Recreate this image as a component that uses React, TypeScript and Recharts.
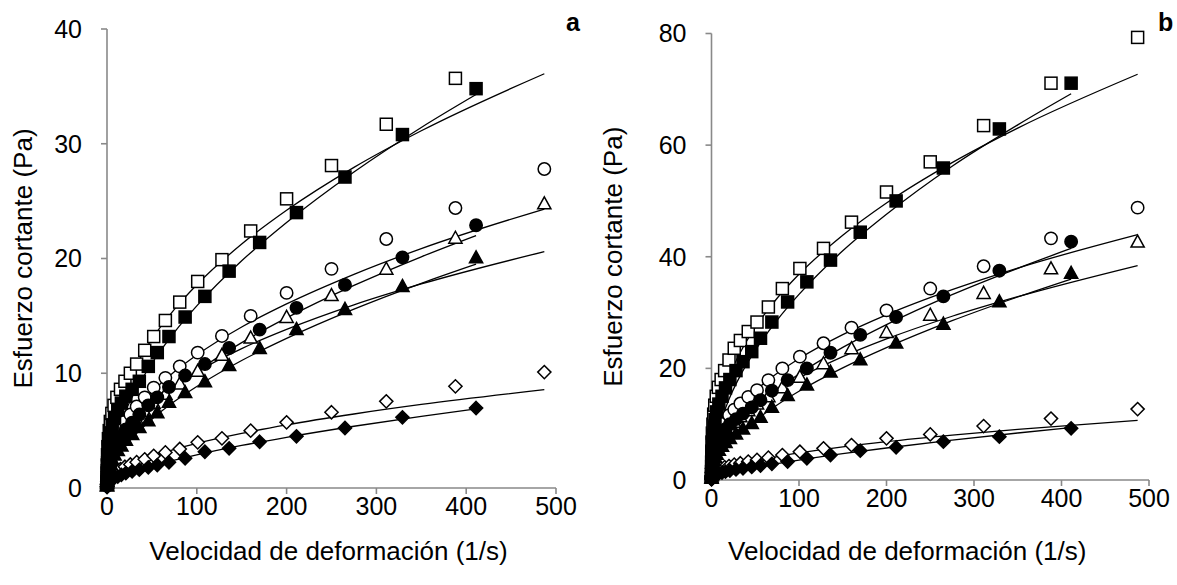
import React from "react";
import { ComposedChart, Scatter, Line, XAxis, YAxis } from "recharts";

const FONT = '"Liberation Sans", Arial, Helvetica, sans-serif';

// shear-rate steps of the two ramps (1/s)
const openRates = [0.05, 0.15, 0.3, 0.6, 1.0, 1.6, 2.5, 3.7, 5.4, 7.8, 11, 15, 20, 26, 33, 42, 52, 65, 81, 101, 128, 160, 200, 250, 311, 388, 487];
const filledRates = [0.06, 0.17, 0.35, 0.7, 1.1, 1.8, 2.7, 4.0, 5.8, 8.4, 12, 16, 21, 28, 36, 46, 56, 69, 87, 109, 136, 170, 211, 265, 329, 411];

// panel a, shear stress (Pa)
const aOpenSquare = [0.6, 1.3, 2.0, 2.9, 3.6, 4.3, 5.0, 5.8, 6.5, 7.2, 7.9, 8.6, 9.3, 10.0, 10.8, 12.0, 13.2, 14.6, 16.2, 18.0, 19.9, 22.4, 25.2, 28.1, 31.7, 35.7];
const aFilledSquare = [0.4, 0.9, 1.5, 2.2, 2.8, 3.5, 4.1, 4.8, 5.5, 6.1, 6.8, 7.4, 8.0, 8.6, 9.3, 10.6, 11.8, 13.2, 14.9, 16.7, 18.9, 21.4, 24.0, 27.1, 30.8, 34.8];
const aOpenCircle = [0.3, 0.6, 0.9, 1.3, 1.7, 2.1, 2.6, 3.1, 3.6, 4.1, 4.6, 5.2, 5.8, 6.4, 7.1, 7.9, 8.75, 9.6, 10.6, 11.8, 13.25, 15.0, 17.0, 19.1, 21.7, 24.4, 27.8];
const aFilledCircle = [0.2, 0.45, 0.7, 1.0, 1.4, 1.8, 2.2, 2.6, 3.0, 3.5, 4.0, 4.5, 5.1, 5.7, 6.4, 7.2, 7.9, 8.8, 9.8, 10.8, 12.2, 13.8, 15.7, 17.7, 20.1, 22.9];
const aOpenTriangle = [0.25, 0.5, 0.8, 1.1, 1.4, 1.8, 2.2, 2.6, 3.0, 3.4, 3.9, 4.4, 4.9, 5.4, 6.0, 6.7, 7.4, 8.2, 9.1, 10.2, 11.6, 13.1, 14.9, 16.8, 19.1, 21.8, 24.8];
const aFilledTriangle = [0.2, 0.4, 0.6, 0.9, 1.2, 1.5, 1.8, 2.1, 2.5, 2.9, 3.3, 3.7, 4.2, 4.7, 5.3, 5.9, 6.6, 7.5, 8.35, 9.3, 10.7, 12.2, 13.85, 15.6, 17.6, 20.1];
const aOpenDiamond = [0.15, 0.3, 0.4, 0.5, 0.65, 0.8, 0.9, 1.0, 1.15, 1.3, 1.45, 1.65, 1.85, 2.05, 2.25, 2.5, 2.8, 3.1, 3.4, 3.98, 4.33, 5.0, 5.72, 6.6, 7.55, 8.86, 10.1];
const aFilledDiamond = [0.08, 0.15, 0.2, 0.3, 0.4, 0.5, 0.6, 0.7, 0.8, 0.9, 1.0, 1.15, 1.3, 1.45, 1.6, 1.8, 2.0, 2.24, 2.59, 3.16, 3.46, 4.03, 4.5, 5.23, 6.16, 6.97];

// panel b, shear stress (Pa)
const bOpenSquare = [1.5, 3.2, 5.0, 6.8, 8.4, 10.0, 11.8, 13.4, 15.0, 16.6, 18.0, 19.6, 21.5, 23.6, 25.0, 26.6, 28.3, 31.0, 34.3, 37.9, 41.5, 46.2, 51.6, 57.0, 63.5, 71.1, 79.3];
const bFilledSquare = [1.0, 2.4, 3.8, 5.2, 6.6, 8.0, 9.4, 10.8, 12.2, 13.6, 15.0, 16.5, 18.0, 19.6, 21.2, 23.0, 25.4, 28.3, 31.9, 35.5, 39.4, 44.4, 50.0, 55.9, 62.9, 71.1];
const bOpenCircle = [0.6, 1.3, 2.1, 3.0, 3.9, 4.8, 5.7, 6.6, 7.6, 8.6, 9.6, 10.6, 11.6, 12.6, 13.7, 14.9, 16.1, 17.9, 20.0, 22.1, 24.5, 27.3, 30.4, 34.3, 38.3, 43.3, 48.8];
const bFilledCircle = [0.5, 1.0, 1.7, 2.4, 3.2, 4.0, 4.8, 5.6, 6.4, 7.3, 8.2, 9.1, 10.0, 10.9, 11.9, 13.0, 14.3, 16.0, 17.9, 20.0, 22.8, 26.0, 29.2, 32.9, 37.5, 42.7];
const bOpenTriangle = [0.5, 1.0, 1.7, 2.4, 3.1, 3.8, 4.6, 5.4, 6.2, 7.0, 7.8, 8.6, 9.5, 10.4, 11.4, 12.5, 13.7, 15.0, 16.6, 18.5, 20.9, 23.6, 26.5, 29.6, 33.5, 37.9, 42.7];
const bFilledTriangle = [0.4, 0.8, 1.3, 1.8, 2.3, 2.9, 3.5, 4.1, 4.7, 5.4, 6.1, 6.8, 7.5, 8.3, 9.2, 10.2, 11.3, 13.1, 15.2, 17.1, 19.4, 21.6, 24.6, 28.0, 32.0, 37.1];
const bOpenDiamond = [0.2, 0.4, 0.6, 0.8, 1.0, 1.15, 1.3, 1.5, 1.7, 1.9, 2.1, 2.3, 2.5, 2.75, 3.0, 3.3, 3.6, 4.0, 4.47, 5.07, 5.67, 6.26, 7.46, 8.17, 9.66, 11.0, 12.7];
const bFilledDiamond = [0.1, 0.2, 0.3, 0.4, 0.5, 0.65, 0.8, 0.9, 1.05, 1.2, 1.35, 1.5, 1.7, 1.9, 2.1, 2.35, 2.6, 2.9, 3.3, 3.88, 4.47, 5.25, 5.85, 6.86, 7.76, 9.25];

// power-law model curves, sampled
const fitOpenX = [0, 0.5, 2, 5, 10, 20, 35, 50, 75, 100, 150, 200, 275, 350, 487];
const fitFilledX = [0, 0.5, 2, 5, 10, 20, 35, 50, 75, 100, 150, 200, 275, 350, 411];

const aFitOpenSquare = [0, 1.63, 3.05, 4.6, 6.28, 8.59, 11.05, 12.97, 15.56, 17.71, 21.26, 24.2, 27.94, 31.13, 36.1];
const aFitFilledSquare = [0, 0.88, 1.88, 3.1, 4.53, 6.6, 8.95, 10.87, 13.57, 15.87, 19.8, 23.14, 27.54, 31.42, 34.29];
const aFitOpenCircle = [0, 0.97, 1.85, 2.84, 3.94, 5.45, 7.08, 8.37, 10.13, 11.59, 14.03, 16.04, 18.62, 20.86, 24.31];
const aFitFilledCircle = [0, 0.56, 1.19, 1.96, 2.87, 4.2, 5.7, 6.93, 8.66, 10.15, 12.67, 14.82, 17.65, 20.15, 22.0];
const aFitOpenTriangle = [0, 0.93, 1.74, 2.63, 3.59, 4.9, 6.31, 7.41, 8.89, 10.12, 12.15, 13.82, 15.96, 17.78, 20.6];
const aFitFilledTriangle = [0, 0.45, 0.99, 1.65, 2.44, 3.59, 4.91, 6.0, 7.53, 8.84, 11.11, 13.04, 15.59, 17.84, 19.51];
const aFitOpenDiamond = [0, 0.28, 0.55, 0.87, 1.23, 1.74, 2.3, 2.75, 3.37, 3.89, 4.76, 5.5, 6.45, 7.28, 8.57];
const aFitFilledDiamond = [0, 0.11, 0.26, 0.46, 0.7, 1.08, 1.52, 1.89, 2.42, 2.89, 3.71, 4.42, 5.38, 6.24, 6.89];

const bFitOpenSquare = [0, 3.8, 6.88, 10.19, 13.73, 18.47, 23.48, 27.36, 32.57, 36.86, 43.84, 49.62, 56.87, 63.06, 72.7];
const bFitFilledSquare = [0, 2.14, 4.38, 7.05, 10.09, 14.46, 19.31, 23.23, 28.65, 33.25, 41.06, 47.61, 56.22, 63.63, 69.2];
const bFitOpenCircle = [0, 2.06, 3.81, 5.73, 7.8, 10.62, 13.62, 15.97, 19.12, 21.73, 26.04, 29.6, 34.1, 37.97, 43.96];
const bFitFilledCircle = [0, 1.01, 2.18, 3.62, 5.31, 7.8, 10.62, 12.94, 16.18, 18.99, 23.76, 27.85, 33.21, 37.93, 41.49];
const bFitOpenTriangle = [0, 1.52, 2.91, 4.48, 6.2, 8.58, 11.16, 13.19, 15.95, 18.26, 22.09, 25.27, 29.34, 32.85, 38.43];
const bFitFilledTriangle = [0, 0.74, 1.66, 2.81, 4.2, 6.27, 8.67, 10.64, 13.45, 15.9, 20.09, 23.72, 28.54, 32.79, 36.0];
const bFitOpenDiamond = [0, 0.34, 0.69, 1.08, 1.53, 2.17, 2.87, 3.43, 4.2, 4.85, 5.94, 6.86, 8.04, 9.07, 10.7];
const bFitFilledDiamond = [0, 0.09, 0.24, 0.46, 0.73, 1.18, 1.74, 2.22, 2.93, 3.57, 4.71, 5.73, 7.13, 8.42, 9.4];

const xTicks = [0, 100, 200, 300, 400, 500];

type Kind = "square" | "circle" | "triangle" | "diamond";
type Pt = { x: number; y: number };

const zip = (xs: number[], ys: number[]): Pt[] =>
  ys.map((y, i) => ({ x: xs[i], y })).filter((p) => p.x !== undefined);

function Marker(props: any) {
  const { cx, cy, kind, filled } = props;
  if (cx == null || cy == null) return null;
  const style = { fill: filled ? "#000" : "#fff", stroke: "#000", strokeWidth: 1.5 };
  const r = 6.6;
  if (kind === "square") return <rect x={cx - 6} y={cy - 6} width={12} height={12} {...style} />;
  if (kind === "circle") return <circle cx={cx} cy={cy} r={6.2} {...style} />;
  if (kind === "triangle")
    return <path d={`M${cx},${cy - r}L${cx + r},${cy + 5.4}L${cx - r},${cy + 5.4}Z`} {...style} />;
  return <path d={`M${cx},${cy - r}L${cx + r},${cy}L${cx},${cy + r}L${cx - r},${cy}Z`} {...style} />;
}

type SeriesDef = { kind: Kind; filled: boolean; stress: number[]; fit: number[] };

type PanelProps = {
  width: number;
  yMax: number;
  yTicks: number[];
  margin: { top: number; right: number; bottom: number; left: number };
  yAxisWidth: number;
  xAxisHeight: number;
  titleDx: number;
  series: SeriesDef[];
};

const axisStroke = { stroke: "#898989", strokeWidth: 1.6 };
const tickStyle = { fill: "#000", fontSize: 25, fontFamily: FONT };

function Panel({ width, yMax, yTicks, margin, yAxisWidth, xAxisHeight, titleDx, series }: PanelProps) {
  return (
    <ComposedChart width={width} height={585} margin={margin}>
      <XAxis
        type="number"
        dataKey="x"
        domain={[0, 500]}
        ticks={xTicks}
        axisLine={axisStroke}
        tickLine={axisStroke}
        tickSize={6}
        tickMargin={3}
        tick={tickStyle}
        height={xAxisHeight}
        label={{
          value: "Velocidad de deformación (1/s)",
          position: "insideBottom",
          offset: 0,
          dx: titleDx,
          fill: "#000",
          fontSize: 26,
          fontFamily: FONT,
        }}
      />
      <YAxis
        type="number"
        dataKey="y"
        domain={[0, yMax]}
        ticks={yTicks}
        axisLine={axisStroke}
        tickLine={axisStroke}
        tickSize={6}
        tickMargin={19}
        tick={tickStyle}
        width={yAxisWidth}
        label={{
          value: "Esfuerzo cortante (Pa)",
          angle: -90,
          position: "insideLeft",
          offset: 23,
          fill: "#000",
          fontSize: 26,
          fontFamily: FONT,
          style: { textAnchor: "middle" },
        }}
      />
      {series.map((s, i) => (
        <Scatter
          key={`pts-${i}`}
          data={zip(s.filled ? filledRates : openRates, s.stress)}
          isAnimationActive={false}
          shape={(p: any) => <Marker {...p} kind={s.kind} filled={s.filled} />}
        />
      ))}
      {series.map((s, i) => (
        <Line
          key={`fit-${i}`}
          data={zip(s.filled ? fitFilledX : fitOpenX, s.fit)}
          dataKey="y"
          type="monotone"
          stroke="#000"
          strokeWidth={1.3}
          dot={false}
          activeDot={false}
          isAnimationActive={false}
        />
      ))}
    </ComposedChart>
  );
}

const seriesA: SeriesDef[] = [
  { kind: "diamond", filled: false, stress: aOpenDiamond, fit: aFitOpenDiamond },
  { kind: "diamond", filled: true, stress: aFilledDiamond, fit: aFitFilledDiamond },
  { kind: "triangle", filled: false, stress: aOpenTriangle, fit: aFitOpenTriangle },
  { kind: "triangle", filled: true, stress: aFilledTriangle, fit: aFitFilledTriangle },
  { kind: "circle", filled: false, stress: aOpenCircle, fit: aFitOpenCircle },
  { kind: "circle", filled: true, stress: aFilledCircle, fit: aFitFilledCircle },
  { kind: "square", filled: false, stress: aOpenSquare, fit: aFitOpenSquare },
  { kind: "square", filled: true, stress: aFilledSquare, fit: aFitFilledSquare },
];

const seriesB: SeriesDef[] = [
  { kind: "diamond", filled: false, stress: bOpenDiamond, fit: bFitOpenDiamond },
  { kind: "diamond", filled: true, stress: bFilledDiamond, fit: bFitFilledDiamond },
  { kind: "triangle", filled: false, stress: bOpenTriangle, fit: bFitOpenTriangle },
  { kind: "triangle", filled: true, stress: bFilledTriangle, fit: bFitFilledTriangle },
  { kind: "circle", filled: false, stress: bOpenCircle, fit: bFitOpenCircle },
  { kind: "circle", filled: true, stress: bFilledCircle, fit: bFitFilledCircle },
  { kind: "square", filled: false, stress: bOpenSquare, fit: bFitOpenSquare },
  { kind: "square", filled: true, stress: bFilledSquare, fit: bFitFilledSquare },
];

const panelTag: React.CSSProperties = {
  position: "absolute",
  top: 10,
  fontFamily: FONT,
  fontWeight: "bold",
  fontSize: 25,
  lineHeight: 1,
  color: "#000",
};

export default function App() {
  return (
    <div style={{ position: "absolute", left: 0, top: 0, width: 1177, height: 585, background: "#fff" }}>
      <div style={{ position: "absolute", left: 0, top: 0 }}>
        <Panel
          width={590}
          yMax={40}
          yTicks={[0, 10, 20, 30, 40]}
          margin={{ top: 29, right: 34, bottom: 25, left: 0 }}
          yAxisWidth={107}
          xAxisHeight={72}
          titleDx={-3}
          series={seriesA}
        />
      </div>
      <div style={{ position: "absolute", left: 590, top: 0 }}>
        <Panel
          width={587}
          yMax={80}
          yTicks={[0, 20, 40, 60, 80]}
          margin={{ top: 33.5, right: 28, bottom: 25, left: 0 }}
          yAxisWidth={121.5}
          xAxisHeight={80}
          titleDx={-23}
          series={seriesB}
        />
      </div>
      <span style={{ ...panelTag, left: 566 }}>a</span>
      <span style={{ ...panelTag, left: 1158 }}>b</span>
    </div>
  );
}
